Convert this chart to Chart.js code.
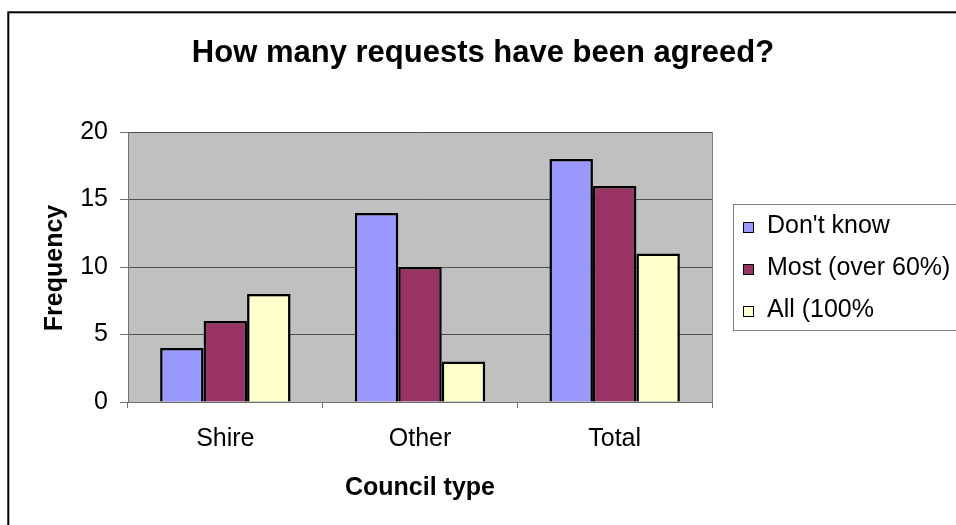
<!DOCTYPE html>
<html>
<head>
<meta charset="utf-8">
<script src="https://cdn.jsdelivr.net/npm/chart.js@4/dist/chart.umd.min.js"></script>
<style>
  html, body { margin: 0; padding: 0; background: #ffffff; }
  #wrap { width: 956px; height: 525px; position: relative; }
</style>
</head>
<body>
<div id="wrap"><canvas id="c" width="956" height="525"></canvas></div>
<script>
// Council types along the x axis
const categories = ['Shire', 'Other', 'Total'];

// Frequency of each answer per council type
const dontKnow = [4, 14, 18];
const mostOver60 = [6, 10, 16];
const all100 = [8, 3, 11];

const seriesNames = ["Don't know", 'Most (over 60%)', 'All (100%'];
const yTicks = [0, 5, 10, 15, 20];

const chartTitle = 'How many requests have been agreed?';
const xTitle = 'Council type';
const yTitle = 'Frequency';

const FONT = '"Liberation Sans", Arial, sans-serif';

// Grey plot background, outer frame, titles and a boxed legend
const decorations = {
  id: 'decorations',
  beforeDraw(chart) {
    const { ctx, chartArea: a } = chart;
    ctx.save();
    ctx.fillStyle = '#ffffff';
    ctx.fillRect(0, 0, chart.width, chart.height);
    ctx.fillStyle = '#c0c0c0';
    ctx.fillRect(a.left, a.top, a.right - a.left, a.bottom - a.top);
    ctx.restore();
  },
  afterDraw(chart) {
    const { ctx, chartArea: a } = chart;
    ctx.save();
    // plot area right edge
    ctx.strokeStyle = '#808080';
    ctx.lineWidth = 1;
    ctx.beginPath();
    ctx.moveTo(a.right + 0.5, a.top);
    ctx.lineTo(a.right + 0.5, a.bottom);
    ctx.stroke();

    // outer frame
    ctx.strokeStyle = '#000000';
    ctx.lineWidth = 2;
    ctx.strokeRect(8.3, 12.3, chart.width + 20, chart.height + 20);

    ctx.fillStyle = '#000000';
    ctx.textAlign = 'center';
    ctx.textBaseline = 'alphabetic';
    ctx.font = 'bold 31px ' + FONT;
    ctx.fillText(chartTitle, 483, 62);

    ctx.font = 'bold 25px ' + FONT;
    ctx.fillText(xTitle, 420, 495);

    ctx.save();
    ctx.translate(62, 268);
    ctx.rotate(-Math.PI / 2);
    ctx.fillText(yTitle, 0, 0);
    ctx.restore();

    // legend
    ctx.strokeStyle = '#808080';
    ctx.lineWidth = 1;
    ctx.strokeRect(733.5, 204.5, 240, 126);
    ctx.font = '25px ' + FONT;
    ctx.textAlign = 'left';
    const baselines = [233, 275, 317];
    chart.data.datasets.forEach((ds, i) => {
      const y = baselines[i];
      ctx.fillStyle = ds.backgroundColor;
      ctx.fillRect(743, y - 11, 11, 11);
      ctx.strokeStyle = '#000000';
      ctx.strokeRect(743.5, y - 10.5, 10, 10);
      ctx.fillStyle = '#000000';
      ctx.fillText(ds.label, 767, y);
    });
    ctx.restore();
  }
};

new Chart(document.getElementById('c'), {
  type: 'bar',
  data: {
    labels: categories,
    datasets: [
      { label: seriesNames[0], data: dontKnow, backgroundColor: '#9999ff' },
      { label: seriesNames[1], data: mostOver60, backgroundColor: '#993366' },
      { label: seriesNames[2], data: all100, backgroundColor: '#ffffcc' }
    ].map(d => Object.assign(d, { borderColor: '#000000', borderWidth: 2.5 }))
  },
  options: {
    responsive: false,
    animation: false,
    devicePixelRatio: 1,
    layout: { padding: { top: 132, left: 0, right: 244, bottom: 0 } },
    datasets: { bar: { categoryPercentage: 0.67, barPercentage: 1 } },
    plugins: { legend: { display: false }, tooltip: { enabled: false }, title: { display: false } },
    scales: {
      x: {
        grid: { offset: true, drawOnChartArea: false, drawTicks: true, tickLength: 6, color: '#707070' },
        border: { color: '#707070', width: 1 },
        ticks: { color: '#000000', font: { family: FONT, size: 25 }, padding: 16 },
        afterFit(scale) { scale.height = 123; }
      },
      y: {
        min: 0, max: 20,
        afterBuildTicks(scale) { scale.ticks = yTicks.map(v => ({ value: v })); },
        grid: { color: '#505050', tickLength: 8, tickColor: '#707070' },
        border: { color: '#707070', width: 1 },
        ticks: { color: '#000000', font: { family: FONT, size: 25 }, padding: 12 },
        afterFit(scale) { scale.width = 128; }
      }
    }
  },
  plugins: [decorations]
});
</script>
</body>
</html>
